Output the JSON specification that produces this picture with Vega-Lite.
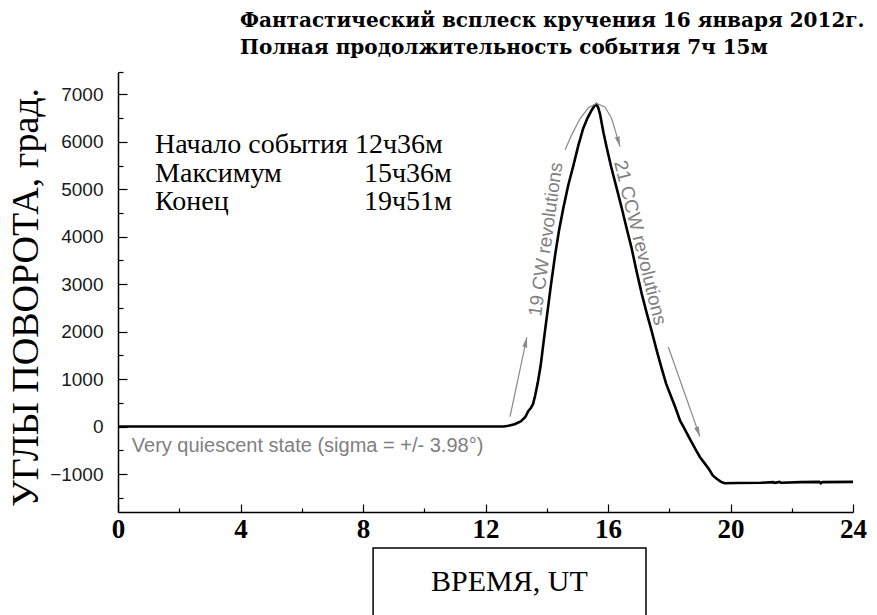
{
  "$schema": "https://vega.github.io/schema/vega-lite/v6.json",
  "autosize": {"type": "none"},
  "width": 735,
  "height": 440,
  "padding": {"left": 118, "top": 72, "right": 24, "bottom": 103},
  "background": "white",
  "title": {
    "text": ["Фантастический всплеск кручения 16 января 2012г.", "Полная продолжительность события  7ч 15м"],
    "anchor": "start",
    "frame": "group",
    "dx": 122,
    "offset": 13,
    "font": "DejaVu Serif",
    "fontSize": 20,
    "fontWeight": "bold",
    "lineHeight": 27,
    "color": "#000"
  },
  "config": {
    "view": {"stroke": null},
    "axis": {"grid": false, "domainColor": "#000", "tickColor": "#000", "domainWidth": 1.5, "tickWidth": 1.2}
  },
  "datasets": {
    "curve": [
      {"h": 0, "v": 0}, {"h": 12.6, "v": 0}, {"h": 12.75, "v": 15}, {"h": 12.95, "v": 50}, {"h": 13.15, "v": 110},
      {"h": 13.3, "v": 200}, {"h": 13.4, "v": 330}, {"h": 13.48, "v": 390}, {"h": 13.55, "v": 470}, {"h": 13.62, "v": 650},
      {"h": 13.7, "v": 900}, {"h": 13.8, "v": 1280}, {"h": 13.9, "v": 1800}, {"h": 14.0, "v": 2300}, {"h": 14.13, "v": 2950},
      {"h": 14.27, "v": 3600}, {"h": 14.4, "v": 4130}, {"h": 14.54, "v": 4600}, {"h": 14.7, "v": 5080}, {"h": 14.87, "v": 5500},
      {"h": 15.03, "v": 5920}, {"h": 15.19, "v": 6280}, {"h": 15.33, "v": 6500}, {"h": 15.47, "v": 6670}, {"h": 15.56, "v": 6760},
      {"h": 15.62, "v": 6790}, {"h": 15.68, "v": 6720}, {"h": 15.74, "v": 6580}, {"h": 15.85, "v": 6200}, {"h": 15.95, "v": 5900},
      {"h": 16.1, "v": 5480}, {"h": 16.28, "v": 5030}, {"h": 16.45, "v": 4600}, {"h": 16.6, "v": 4200}, {"h": 16.77, "v": 3760},
      {"h": 16.93, "v": 3280}, {"h": 17.1, "v": 2800}, {"h": 17.26, "v": 2400}, {"h": 17.43, "v": 2000}, {"h": 17.6, "v": 1580},
      {"h": 17.75, "v": 1230}, {"h": 17.9, "v": 900}, {"h": 18.05, "v": 650}, {"h": 18.2, "v": 400}, {"h": 18.35, "v": 130},
      {"h": 18.5, "v": -50}, {"h": 18.68, "v": -270}, {"h": 18.85, "v": -470}, {"h": 19.0, "v": -640}, {"h": 19.15, "v": -770},
      {"h": 19.3, "v": -900}, {"h": 19.42, "v": -1030}, {"h": 19.55, "v": -1100}, {"h": 19.68, "v": -1160}, {"h": 19.8, "v": -1195},
      {"h": 20.2, "v": -1190}, {"h": 21.0, "v": -1185}, {"h": 21.4, "v": -1170}, {"h": 21.45, "v": -1185}, {"h": 21.6, "v": -1165},
      {"h": 21.65, "v": -1185}, {"h": 22.3, "v": -1170}, {"h": 22.9, "v": -1165}, {"h": 22.95, "v": -1195}, {"h": 23.0, "v": -1170},
      {"h": 24, "v": -1165}
    ],
    "arrows": [
      {"g": "a1", "o": 1, "h": 12.8, "v": 210}, {"g": "a1", "o": 2, "h": 13.35, "v": 1880},
      {"g": "a2", "o": 1, "h": 14.6, "v": 5830}, {"g": "a2", "o": 2, "h": 14.81, "v": 6140}, {"g": "a2", "o": 3, "h": 15.09, "v": 6490},
      {"g": "a2", "o": 4, "h": 15.36, "v": 6716}, {"g": "a2", "o": 5, "h": 15.63, "v": 6810}, {"g": "a2", "o": 6, "h": 15.9, "v": 6735},
      {"g": "a2", "o": 7, "h": 16.12, "v": 6490}, {"g": "a2", "o": 8, "h": 16.28, "v": 6140}, {"g": "a2", "o": 9, "h": 16.39, "v": 5900},
      {"g": "a3", "o": 1, "h": 17.97, "v": 1675}, {"g": "a3", "o": 2, "h": 19.0, "v": -209}
    ],
    "heads": [
      {"h": 13.35, "v": 1880, "a": 12},
      {"h": 16.39, "v": 5900, "a": 164},
      {"h": 19.0, "v": -209, "a": 160}
    ],
    "rotated": [
      {"h": 13.97, "v": 3945, "a": -82, "t": "19  CW  revolutions"},
      {"h": 17.05, "v": 3874, "a": 76, "t": "21  CCW  revolutions"}
    ],
    "quiet": [{"h": 0.45, "v": -526, "t": "Very quiescent state (sigma = +/- 3.98°)"}],
    "statsL": [
      {"h": 1.21, "v": 5762, "t": "Начало события 12ч36м"},
      {"h": 1.21, "v": 5152, "t": "Максимум"},
      {"h": 1.21, "v": 4562, "t": "Конец"}
    ],
    "statsR": [
      {"h": 10.9, "v": 5152, "t": "15ч36м"},
      {"h": 10.9, "v": 4562, "t": "19ч51м"}
    ],
    "box": [{"h": 8.33, "h2": 17.24, "v": -2560, "v2": -4300}],
    "xtitle": [{"h": 12.78, "v": -3459, "t": "ВРЕМЯ, UT"}]
  },
  "resolve": {"axis": {"x": "independent", "y": "independent"}},
  "layer": [
    {
      "data": {"name": "box"},
      "mark": {"type": "rect", "fill": null, "stroke": "#000", "strokeWidth": 1.5, "clip": false},
      "encoding": {
        "x": {"field": "h", "type": "quantitative", "scale": {"domain": [0, 24], "nice": false},
              "axis": {"values": [2, 6, 10, 14, 18, 22], "tickSize": -4, "labels": false, "domain": false, "title": null, "orient": "bottom"}},
        "x2": {"field": "h2"},
        "y": {"field": "v", "type": "quantitative", "scale": {"domain": [-1800, 7470], "nice": false},
              "axis": {"values": [-1500, -500, 500, 1500, 2500, 3500, 4500, 5500, 6500, 7470], "tickSize": -5, "labels": false, "domain": false, "title": null, "orient": "left"}},
        "y2": {"field": "v2"}
      }
    },
    {
      "data": {"name": "curve"},
      "mark": {"type": "line", "color": "#000", "strokeWidth": 2.6},
      "encoding": {
        "x": {"field": "h", "type": "quantitative", "scale": {"domain": [0, 24], "nice": false},
              "axis": {"values": [0, 4, 8, 12, 16, 20, 24], "tickSize": -8, "labelFont": "Liberation Serif", "labelFontWeight": "bold", "labelFontSize": 27, "labelColor": "#000", "labelPadding": 12, "labelFlush": false, "title": null, "orient": "bottom"}},
        "y": {"field": "v", "type": "quantitative", "scale": {"domain": [-1800, 7470], "nice": false},
              "axis": {"values": [-1000, 0, 1000, 2000, 3000, 4000, 5000, 6000, 7000], "format": "d", "tickSize": -9, "labelFont": "Liberation Sans", "labelFontSize": 19, "labelColor": "#1a1a1a", "labelPadding": 24, "orient": "left",
                       "title": "УГЛЫ ПОВОРОТА, град.", "titleFont": "Liberation Serif", "titleFontSize": 38, "titleFontWeight": "normal", "titleColor": "#000", "titleX": -92, "titleY": 225, "titleAngle": -90, "titleBaseline": "middle", "titleAlign": "center"}}
      }
    },
    {
      "data": {"name": "arrows"},
      "mark": {"type": "line", "color": "#8a8a8a", "strokeWidth": 1.2},
      "encoding": {
        "x": {"field": "h", "type": "quantitative", "axis": null},
        "y": {"field": "v", "type": "quantitative", "axis": null},
        "detail": {"field": "g"},
        "order": {"field": "o"}
      }
    },
    {
      "data": {"name": "heads"},
      "mark": {"type": "point", "filled": true, "color": "#8a8a8a", "opacity": 1, "shape": "M0,0L0.5,2L-0.5,2Z", "size": 100},
      "encoding": {
        "x": {"field": "h", "type": "quantitative", "axis": null},
        "y": {"field": "v", "type": "quantitative", "axis": null},
        "angle": {"field": "a", "type": "quantitative", "scale": null}
      }
    },
    {
      "data": {"name": "rotated"},
      "mark": {"type": "text", "font": "Liberation Sans", "fontSize": 19, "color": "#808080", "align": "center", "baseline": "middle"},
      "encoding": {
        "x": {"field": "h", "type": "quantitative", "axis": null},
        "y": {"field": "v", "type": "quantitative", "axis": null},
        "angle": {"field": "a", "type": "quantitative", "scale": null},
        "text": {"field": "t"}
      }
    },
    {
      "data": {"name": "quiet"},
      "mark": {"type": "text", "font": "Liberation Sans", "fontSize": 20, "color": "#808080", "align": "left", "baseline": "alphabetic"},
      "encoding": {
        "x": {"field": "h", "type": "quantitative", "axis": null},
        "y": {"field": "v", "type": "quantitative", "axis": null},
        "text": {"field": "t"}
      }
    },
    {
      "data": {"name": "statsL"},
      "mark": {"type": "text", "font": "Liberation Serif", "fontSize": 28, "color": "#000", "align": "left", "baseline": "alphabetic"},
      "encoding": {
        "x": {"field": "h", "type": "quantitative", "axis": null},
        "y": {"field": "v", "type": "quantitative", "axis": null},
        "text": {"field": "t"}
      }
    },
    {
      "data": {"name": "statsR"},
      "mark": {"type": "text", "font": "Liberation Serif", "fontSize": 28, "color": "#000", "align": "right", "baseline": "alphabetic"},
      "encoding": {
        "x": {"field": "h", "type": "quantitative", "axis": null},
        "y": {"field": "v", "type": "quantitative", "axis": null},
        "text": {"field": "t"}
      }
    },
    {
      "data": {"name": "xtitle"},
      "mark": {"type": "text", "font": "Liberation Serif", "fontSize": 30, "color": "#000", "align": "center", "baseline": "alphabetic", "clip": false},
      "encoding": {
        "x": {"field": "h", "type": "quantitative", "axis": null},
        "y": {"field": "v", "type": "quantitative", "axis": null},
        "text": {"field": "t"}
      }
    }
  ]
}
